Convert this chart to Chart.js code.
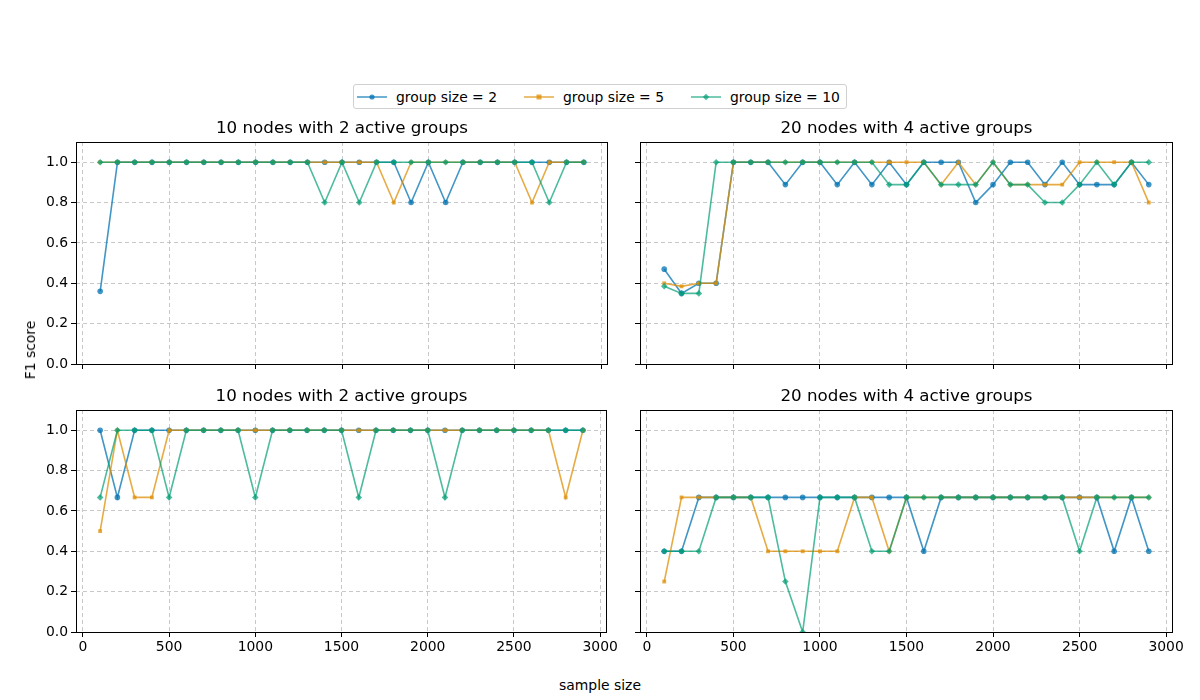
<!DOCTYPE html>
<html>
<head>
<meta charset="utf-8">
<script src="https://cdn.jsdelivr.net/npm/chart.js@4.4.1/dist/chart.umd.min.js"></script>
<style>
    body { margin: 0; background: #fff; font-family: "DejaVu Sans", sans-serif; }
    #fig { position: relative; width: 1200px; height: 700px; overflow: hidden; }
    .panel { position: absolute; }
    .legend {
        position: absolute; left: 353px; top: 84px; width: 494px; height: 25px;
        border: 1px solid #d0d0d0; border-radius: 3px; box-sizing: border-box;
        display: flex; align-items: center; font-size: 13.9px; color: #000;
    }
    .legend .item { display: flex; align-items: center; margin-left: 3px; margin-right: 24px; }
    .legend .item:last-child { margin-right: 0; }
    .legend svg { margin-right: 9px; }
    .label { position: absolute; font-size: 13.9px; font-weight: normal; color: #000; white-space: nowrap; }
</style>
</head>
<body>
<div id="fig">
    <div class="legend">
        <div class="item"><svg width="30" height="10"><line x1="0" y1="5" x2="30" y2="5" stroke="rgba(1,115,178,0.75)" stroke-width="1.5"/><circle cx="15" cy="5" r="2.6" fill="rgba(1,115,178,0.75)"/></svg>group size = 2</div>
        <div class="item"><svg width="30" height="10"><line x1="0" y1="5" x2="30" y2="5" stroke="rgba(222,143,5,0.75)" stroke-width="1.5"/><rect x="12.5" y="2.5" width="5" height="5" fill="rgba(222,143,5,0.75)"/></svg>group size = 5</div>
        <div class="item"><svg width="30" height="10"><line x1="0" y1="5" x2="30" y2="5" stroke="rgba(2,158,115,0.7)" stroke-width="1.5"/><polygon points="15,1.8 18.2,5 15,8.2 11.8,5" fill="rgba(2,158,115,0.7)"/></svg>group size = 10</div>
    </div>
    <div class="panel" style="left:0px; top:112px; width:620px; height:272px;"><canvas id="c1"></canvas></div>
    <div class="panel" style="left:620px; top:112px; width:580px; height:272px;"><canvas id="c2"></canvas></div>
    <div class="panel" style="left:0px; top:380px; width:620px; height:276px;"><canvas id="c3"></canvas></div>
    <div class="panel" style="left:620px; top:380px; width:580px; height:276px;"><canvas id="c4"></canvas></div>
    <div class="label" style="left:30px; top:350px; transform: translate(-50%, -50%) rotate(-90deg);">F1 score</div>
    <div class="label" style="left:600px; top:685px; transform: translate(-50%, -50%);">sample size</div>
</div>
<script>
const sampleSizes = [100, 200, 300, 400, 500, 600, 700, 800, 900, 1000, 1100, 1200, 1300, 1400, 1500,
    1600, 1700, 1800, 1900, 2000, 2100, 2200, 2300, 2400, 2500, 2600, 2700, 2800, 2900];
const xTicks = [0, 500, 1000, 1500, 2000, 2500, 3000];
const yTicks = [0, 0.2, 0.4, 0.6, 0.8, 1.0];
const seriesNames = ['group size = 2', 'group size = 5', 'group size = 10'];

// top left: 10 nodes, 2 active groups
const topLeft2 = [0.36, 1, 1, 1, 1, 1, 1, 1, 1, 1, 1, 1, 1, 1, 1, 1, 1, 1, 0.8, 1, 0.8, 1, 1, 1, 1, 1, 1, 1, 1];
const topLeft5 = [1, 1, 1, 1, 1, 1, 1, 1, 1, 1, 1, 1, 1, 1, 1, 1, 1, 0.8, 1, 1, 1, 1, 1, 1, 1, 0.8, 1, 1, 1];
const topLeft10 = [1, 1, 1, 1, 1, 1, 1, 1, 1, 1, 1, 1, 1, 0.8, 1, 0.8, 1, 1, 1, 1, 1, 1, 1, 1, 1, 1, 0.8, 1, 1];

// top right: 20 nodes, 4 active groups
const topRight2 = [0.47, 0.35, 0.4, 0.4, 1, 1, 1, 0.889, 1, 1, 0.889, 1, 0.889, 1, 0.889, 1, 1, 1, 0.8, 0.889, 1, 1, 0.889, 1, 0.889, 0.889, 0.889, 1, 0.889];
const topRight5 = [0.4, 0.385, 0.4, 0.4, 1, 1, 1, 1, 1, 1, 1, 1, 1, 1, 1, 1, 0.889, 1, 0.889, 1, 0.889, 0.889, 0.889, 0.889, 1, 1, 1, 1, 0.8];
const topRight10 = [0.385, 0.35, 0.35, 1, 1, 1, 1, 1, 1, 1, 1, 1, 1, 0.889, 0.889, 1, 0.889, 0.889, 0.889, 1, 0.889, 0.889, 0.8, 0.8, 0.889, 1, 0.889, 1, 1];

// bottom left: 10 nodes, 2 active groups
const bottomLeft2 = [1, 0.667, 1, 1, 1, 1, 1, 1, 1, 1, 1, 1, 1, 1, 1, 1, 1, 1, 1, 1, 1, 1, 1, 1, 1, 1, 1, 1, 1];
const bottomLeft5 = [0.5, 1, 0.667, 0.667, 1, 1, 1, 1, 1, 1, 1, 1, 1, 1, 1, 1, 1, 1, 1, 1, 1, 1, 1, 1, 1, 1, 1, 0.667, 1];
const bottomLeft10 = [0.667, 1, 1, 1, 0.667, 1, 1, 1, 1, 0.667, 1, 1, 1, 1, 1, 0.667, 1, 1, 1, 1, 0.667, 1, 1, 1, 1, 1, 1, 1, 1];

// bottom right: 20 nodes, 4 active groups
const bottomRight2 = [0.4, 0.4, 0.667, 0.667, 0.667, 0.667, 0.667, 0.667, 0.667, 0.667, 0.667, 0.667, 0.667, 0.667, 0.667, 0.4, 0.667, 0.667, 0.667, 0.667, 0.667, 0.667, 0.667, 0.667, 0.667, 0.667, 0.4, 0.667, 0.4];
const bottomRight5 = [0.25, 0.667, 0.667, 0.667, 0.667, 0.667, 0.4, 0.4, 0.4, 0.4, 0.4, 0.667, 0.667, 0.4, 0.667, 0.667, 0.667, 0.667, 0.667, 0.667, 0.667, 0.667, 0.667, 0.667, 0.667, 0.667, 0.667, 0.667, 0.667];
const bottomRight10 = [0.4, 0.4, 0.4, 0.667, 0.667, 0.667, 0.667, 0.25, 0, 0.667, 0.667, 0.667, 0.4, 0.4, 0.667, 0.667, 0.667, 0.667, 0.667, 0.667, 0.667, 0.667, 0.667, 0.667, 0.4, 0.667, 0.667, 0.667, 0.667];

const colors = ['rgba(1, 115, 178, 0.75)', 'rgba(222, 143, 5, 0.75)', 'rgba(2, 158, 115, 0.7)'];
const markers = ['circle', 'rect', 'rectRot'];
const markerSizes = [2.8, 2.7, 3.3];

Chart.defaults.font.family = '"DejaVu Sans", sans-serif';
Chart.defaults.color = '#000';

// matplotlib draws a full box round each axes
const framePlugin = {
    id: 'frame',
    afterDraw(chart) {
        const a = chart.chartArea;
        const ctx = chart.ctx;
        ctx.save();
        ctx.strokeStyle = '#000';
        ctx.lineWidth = 1;
        ctx.strokeRect(Math.round(a.left) + 0.5, Math.round(a.top) + 0.5,
            Math.round(a.right - a.left) - 1, Math.round(a.bottom - a.top));
        ctx.restore();
    }
};

function makePanel(id, title, series, opts) {
    const datasets = series.map((values, i) => ({
        label: seriesNames[i],
        data: sampleSizes.map((x, j) => ({ x: x, y: values[j] })),
        borderColor: colors[i],
        backgroundColor: colors[i],
        borderWidth: 1.6,
        pointStyle: markers[i],
        pointRadius: markerSizes[i],
        pointBorderWidth: 0,
        pointHoverRadius: markerSizes[i],
        tension: 0,
        order: 3 - i
    }));

    const gridOpts = {
        color: 'rgba(176, 176, 176, 0.7)',
        tickColor: '#000',
        tickBorderDash: [],
        tickLength: 5
    };

    new Chart(document.getElementById(id), {
        type: 'line',
        data: { datasets: datasets },
        options: {
            responsive: true,
            maintainAspectRatio: false,
            animation: false,
            layout: { padding: { left: 0, right: opts.padRight, top: 0, bottom: 0 } },
            plugins: {
                legend: { display: false },
                tooltip: { enabled: false },
                title: {
                    display: true,
                    text: title,
                    fullSize: false,
                    font: { size: 16.7, weight: 'normal' },
                    color: '#000',
                    padding: { top: 7, bottom: 3 }
                }
            },
            scales: {
                x: {
                    type: 'linear',
                    min: -40,
                    max: 3040,
                    afterBuildTicks: axis => { axis.ticks = xTicks.map(v => ({ value: v })); },
                    afterFit: axis => { axis.height = opts.xHeight; },
                    border: { display: false, dash: [4, 3] },
                    grid: gridOpts,
                    ticks: {
                        font: { size: 13.9 },
                        padding: 2,
                        maxRotation: 0,
                        callback: v => opts.xLabels ? String(v) : ''
                    }
                },
                y: {
                    min: 0,
                    max: 1.1,
                    afterBuildTicks: axis => { axis.ticks = yTicks.map(v => ({ value: v })); },
                    afterFit: axis => { axis.width = opts.yWidth; },
                    border: { display: false, dash: [4, 3] },
                    grid: gridOpts,
                    ticks: {
                        font: { size: 13.9 },
                        padding: 3,
                        callback: v => opts.yLabels ? v.toFixed(1) : ''
                    }
                }
            }
        },
        plugins: [framePlugin]
    });
}

makePanel('c1', '10 nodes with 2 active groups', [topLeft2, topLeft5, topLeft10],
    { padRight: 12, xHeight: 20, yWidth: 76, xLabels: false, yLabels: true });
makePanel('c2', '20 nodes with 4 active groups', [topRight2, topRight5, topRight10],
    { padRight: 27, xHeight: 20, yWidth: 20, xLabels: false, yLabels: false });
makePanel('c3', '10 nodes with 2 active groups', [bottomLeft2, bottomLeft5, bottomLeft10],
    { padRight: 12, xHeight: 24, yWidth: 76, xLabels: true, yLabels: true });
makePanel('c4', '20 nodes with 4 active groups', [bottomRight2, bottomRight5, bottomRight10],
    { padRight: 27, xHeight: 24, yWidth: 20, xLabels: true, yLabels: false });
</script>
</body>
</html>
